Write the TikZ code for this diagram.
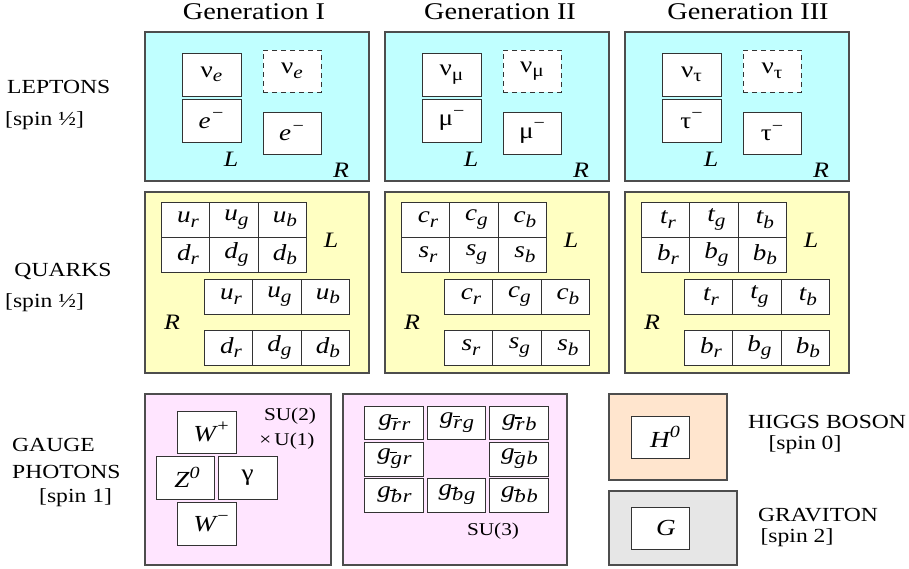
\documentclass[tikz,border=0pt]{standalone}
\usepackage{fontspec}
\setmainfont{Liberation Serif}[FakeStretch=1.18]
\definecolor{lepcol}{HTML}{C0FFFF}
\definecolor{quacol}{HTML}{FFFFC2}
\definecolor{gaucol}{HTML}{FFE5FF}
\definecolor{higcol}{HTML}{FFE5CE}
\definecolor{gracol}{HTML}{E6E6E6}
\definecolor{edgecol}{HTML}{4D4D4D}
\newcommand\ob[1]{\leavevmode\rlap{\smash{\raisebox{0.62em}{\kern-0.04em\rule{0.36em}{0.06em}}}}#1}
\newcommand\sbs[1]{\raisebox{-0.2em}{\fontsize{18}{20}\selectfont #1}}
\newcommand\sps[1]{\raisebox{0.42em}{\fontsize{17}{20}\selectfont #1}}
\newcommand\bx[7]{\node[#6, minimum width={(#4)-(#2)}, minimum height={(#5)-(#3)}] (#1) at ({((#2)+(#4))/2},{((#3)+(#5))/2}) {#7};}
\newcommand\qtx[2]{\hspace*{6pt}#1\sbs{#2}}
\newcommand\qrow[5]{%
 \bx{#1r}{#2}{#3}{#2+48}{#4}{cell}{\qtx{#5}{r}}
 \bx{#1g}{#2+48}{#3}{#2+97}{#4}{cell}{\qtx{#5}{g}}
 \bx{#1b}{#2+97}{#3}{#2+145}{#4}{cell}{\qtx{#5}{b}}}
\newcommand\lepgen[5]{% #1 X, #2 id, #3 nu, #4 charged
 \bx{lep#2}{#1}{32}{#1+224}{181}{bigbox,fill=lepcol}{}
 \bx{nuL#2}{#1+37}{53}{#1+96}{96}{cell}{#3}
 \bx{chL#2}{#1+37}{99}{#1+96}{142}{cell}{#4}
 \bx{nuR#2}{#1+118}{50}{#1+176}{92}{cell,dashed,dash pattern=on 5pt off 4pt}{#3}
 \bx{chR#2}{#1+118}{112}{#1+176}{154}{cell}{#4}
 \node[hand] (lepLl#2) at (#1+86,159) {L};
 \node[hand] (lepRl#2) at (#1+196,170) {R};}
\newcommand\quagen[3]{% #1 X, #2 id
 \bx{qua#2}{#1}{192}{#1+224}{373}{bigbox,fill=quacol}{}
 \qrow{qLu#2}{#1+16}{202}{237}{\csname qa#2\endcsname}
 \qrow{qLd#2}{#1+16}{237}{272}{\csname qb#2\endcsname}
 \qrow{qRu#2}{#1+59}{279}{314}{\csname qa#2\endcsname}
 \qrow{qRd#2}{#1+59}{330}{365}{\csname qb#2\endcsname}
 \node[hand] (quaLl#2) at (#1+186,240) {L};
 \node[hand] (quaRl#2) at (#1+27,322) {R};}
\newcommand\qaA{u}\newcommand\qbA{d}
\newcommand\qaB{c}\newcommand\qbB{s}
\newcommand\qaC{t}\newcommand\qbC{b}
\newcommand\glu[2]{\hspace*{2pt}g\raisebox{-0.22em}{\fontsize{19}{21}\selectfont\ob{#1}\kern0.04em#2}}
\begin{document}
\begin{tikzpicture}[x=1pt,y=-1pt,
  bigbox/.style={draw=edgecol,line width=1.2pt,inner sep=0pt},
  cell/.style={draw=black!80,line width=0.8pt,fill=white,inner sep=0pt,font=\fontsize{23}{26}\selectfont\itshape},
  hand/.style={inner sep=0pt,font=\fontsize{22}{25}\selectfont\itshape},
  gen/.style={inner sep=0pt,anchor=base,font=\fontsize{24}{28}\selectfont},
  lab/.style={inner sep=0pt,font=\fontsize{20}{24}\selectfont},
  sulab/.style={inner sep=0pt,font=\fontsize{18}{22}\selectfont}]
\useasboundingbox (0,0) rectangle (909,569);
% generation titles
\node[gen] (g1) at (254,20) {Generation I};
\node[gen] (g2) at (500,20) {Generation II};
\node[gen] (g3) at (748,20) {Generation III};
% left labels
\node[lab,anchor=west] (lep) at (7,87) {LEPTONS};
\node[lab,anchor=west] (lepspin) at (5,121) {[spin ½]};
\node[lab] (qua) at (63,271) {QUARKS};
\node[lab,anchor=west] (quaspin) at (5,303) {[spin ½]};
\node[lab,anchor=west] (gau) at (12,445) {GAUGE};
\node[lab,anchor=west] (pho) at (12,472) {PHOTONS};
\node[lab,anchor=west] (gauspin) at (39,498) {[spin 1]};
% leptons
\lepgen{145}{A}{{\upshape ν}\sbs{e}}{e\sps{−}}{}
\lepgen{385}{B}{\upshape ν\sbs{μ}}{\upshape μ\sps{−}}{}
\lepgen{625}{C}{\upshape ν\sbs{τ}}{\upshape τ\sps{−}}{}
% quarks
\quagen{145}{A}{}
\quagen{385}{B}{}
\quagen{625}{C}{}
% electroweak
\bx{ew}{145}{394}{331}{565}{bigbox,fill=gaucol}{}
\bx{wp}{177}{411}{236}{453}{cell}{\hspace*{10pt}W\sps{+}}
\bx{z0}{156}{456}{214}{499}{cell}{\hspace*{4pt}Z\sps{0}}
\bx{ga}{218}{456}{277}{499}{cell}{\upshape γ}
\bx{wm}{177}{502}{236}{545}{cell}{\hspace*{10pt}W\sps{−}}
\node[sulab] (su2) at (290,416) {SU(2)};
\node[sulab] (u1) at (287,441) {×\,U(1)};
% strong
\bx{st}{343}{394}{567}{565}{bigbox,fill=gaucol}{}
\bx{grr}{364}{406}{423}{439}{cell}{\glu{r}{r}}
\bx{grg}{427}{406}{485}{439}{cell}{\glu{r}{g}}
\bx{grb}{489}{406}{548}{439}{cell}{\glu{r}{b}}
\bx{ggr}{364}{442}{423}{476}{cell}{\glu{g}{r}}
\bx{ggb}{489}{442}{548}{476}{cell}{\glu{g}{b}}
\bx{gbr}{364}{478}{423}{512}{cell}{\glu{b}{r}}
\bx{gbg}{427}{478}{485}{512}{cell}{\glu{b}{g}}
\bx{gbb}{489}{478}{548}{512}{cell}{\glu{b}{b}}
\node[sulab] (su3) at (493,531) {SU(3)};
% higgs
\bx{hig}{609}{394}{727}{480}{bigbox,fill=higcol}{}
\bx{h0}{631}{416}{689}{458}{cell}{\hspace*{10pt}H\sps{0}}
\node[lab] (higl) at (827,422) {HIGGS BOSON};
\node[lab] (higs) at (805,445) {[spin 0]};
% graviton
\bx{gra}{609}{491}{737}{565}{bigbox,fill=gracol}{}
\bx{gg}{631}{507}{689}{549}{cell}{\hspace*{12pt}G}
\node[lab] (gral) at (818,515) {GRAVITON};
\node[lab] (gras) at (797,538) {[spin 2]};
\end{tikzpicture}
\end{document}
